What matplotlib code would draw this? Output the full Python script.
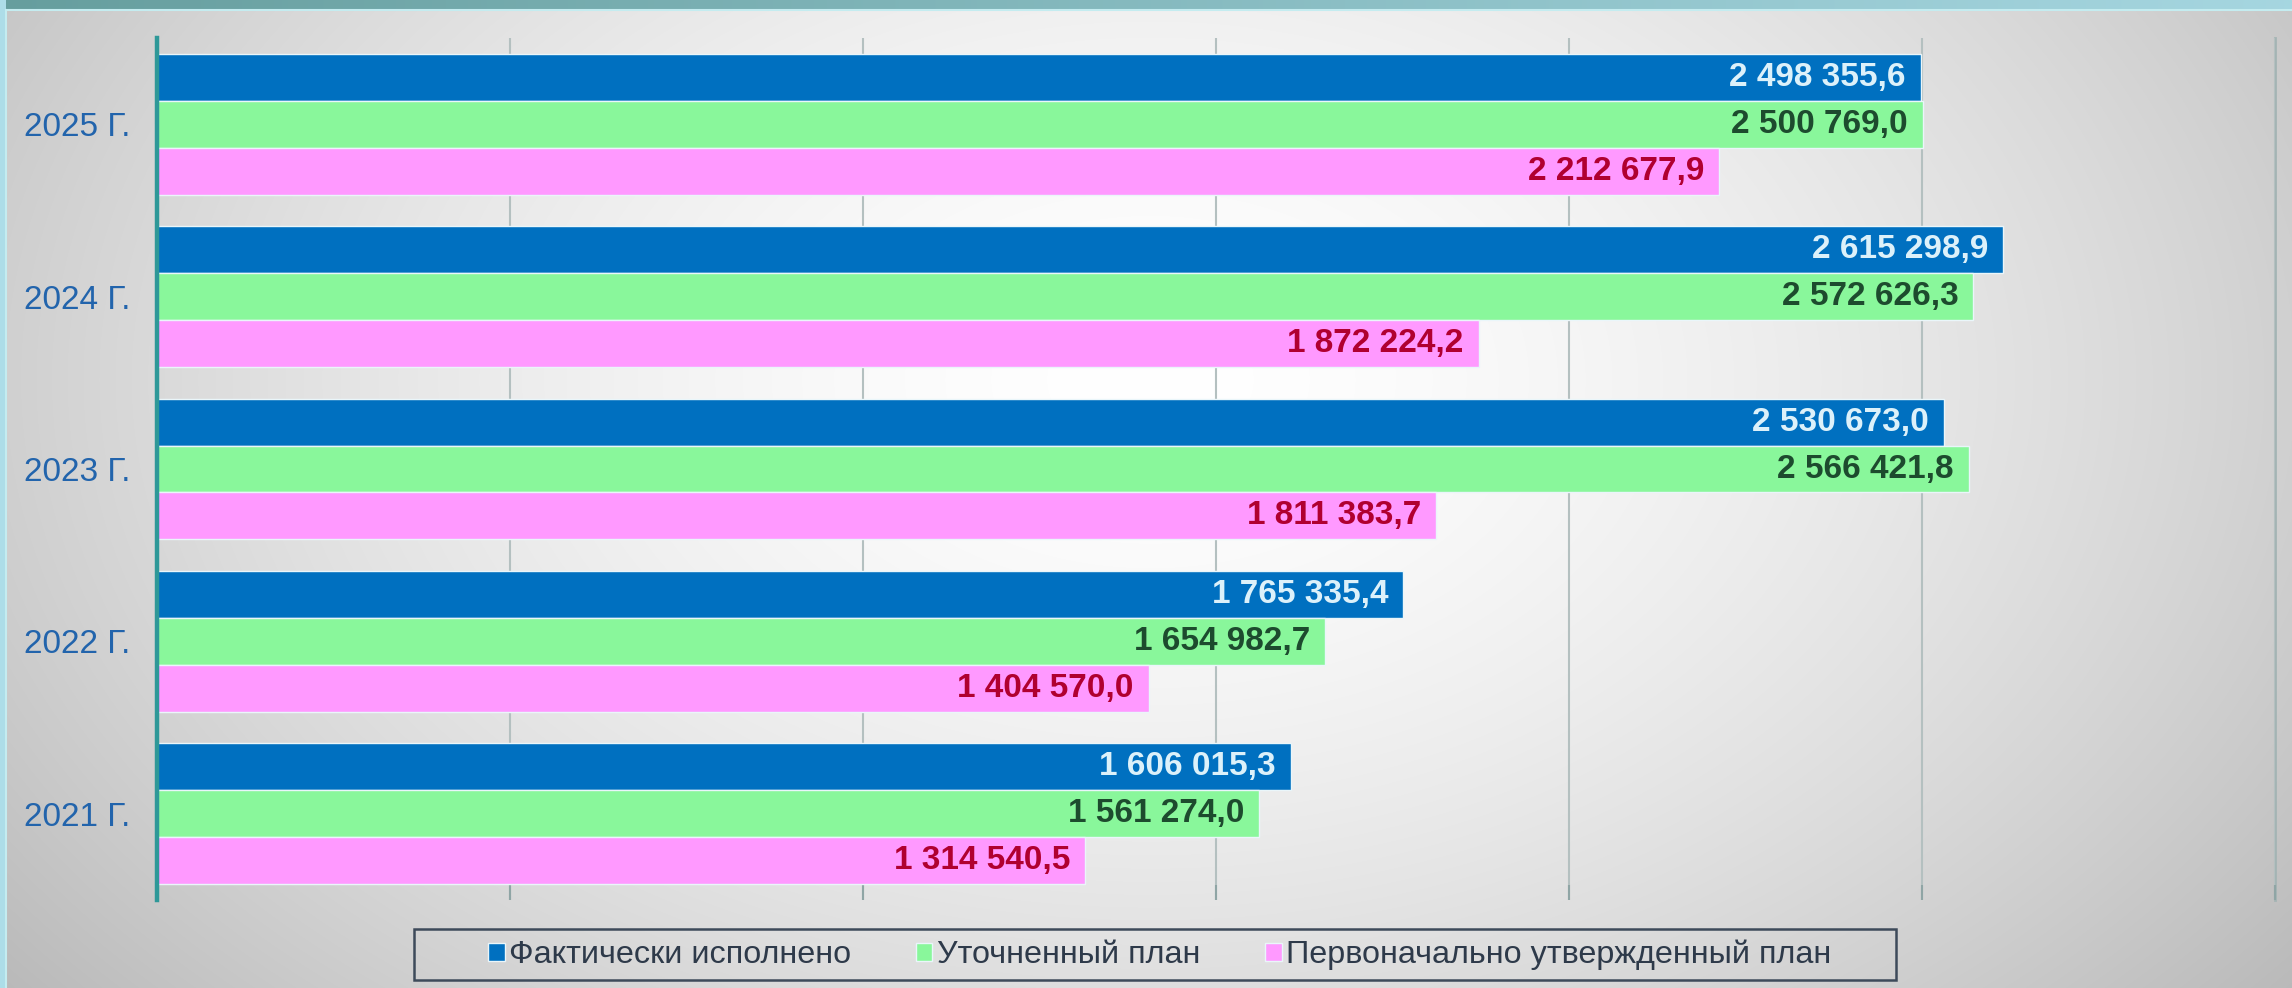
import numpy as np
import matplotlib
matplotlib.use("Agg")
import matplotlib.pyplot as plt
from matplotlib.patches import Rectangle

plt.rcParams['font.family'] = ['Liberation Sans', 'DejaVu Sans']

years = ["2021 Г.", "2022 Г.", "2023 Г.", "2024 Г.", "2025 Г."]
fact = [1606015.3, 1765335.4, 2530673.0, 2615298.9, 2498355.6]
refined = [1561274.0, 1654982.7, 2566421.8, 2572626.3, 2500769.0]
initial = [1314540.5, 1404570.0, 1811383.7, 1872224.2, 2212677.9]
series_names = ["Фактически исполнено", "Уточненный план", "Первоначально утвержденный план"]

bar_colors = ["#0070c0", "#89f79b", "#ff99ff"]
label_colors = ["#dcf1fa", "#1d4b2e", "#b00030"]

W, H = 2292, 988
fig = plt.figure(figsize=(W / 100, H / 100), dpi=100)

# background
bg = fig.add_axes([0, 0, 1, 1])
bg.set_axis_off()
yy, xx = np.mgrid[0:H, 0:W]
r = np.sqrt(((xx - 1150) / 1350.0) ** 2 + ((yy - 380) / 900.0) ** 2)
v = 1.0 - 0.24 * np.clip(r, 0, 1.2) ** 1.6
img = np.dstack([v, v, v])
t = xx[:10] / W
img[:10, :, 0] = 0.40 + 0.25 * t
img[:10, :, 1] = 0.62 + 0.22 * t
img[:10, :, 2] = 0.62 + 0.26 * t
img[:, :6, 0] = 0.68
img[:, :6, 1] = 0.87
img[:, :6, 2] = 0.91
bg.imshow(img, extent=[0, W, H, 0], aspect='auto')
bg.set_xlim(0, W)
bg.set_ylim(H, 0)
bg.plot([6, W], [10, 10], color="#c4ecf0", lw=1.5)
bg.plot([6, 6], [10, H], color="#c4ecf0", lw=1.5)
# legend frame
bg.add_patch(Rectangle((414, 929), 1482, 51, facecolor="none", edgecolor="#3d4a5a", lw=1.8))

# main axes
x0, x1, y0, y1 = 157, 2275, 38, 900
ax = fig.add_axes([x0 / W, (H - y1) / H, (x1 - x0) / W, (y1 - y0) / H])
ax.patch.set_alpha(0)

idx = np.arange(len(years))
h = 0.272
offsets = [h, 0, -h]
data = [fact, refined, initial]
for s, (vals, off) in enumerate(zip(data, offsets)):
    ax.barh(idx + off, vals, height=h, color=bar_colors[s],
            edgecolor="#eaf6fa", linewidth=1.0, label=series_names[s], zorder=3)
    for yv, val in zip(idx + off, vals):
        txt = f"{val:,.1f}".replace(",", " ").replace(".", ",")
        ax.annotate(txt, xy=(val, yv), xytext=(-15, 0), textcoords="offset pixels",
                    ha="right", va="center", fontsize=24, fontweight="bold",
                    color=label_colors[s], zorder=4)

ax.set_xlim(0, 3000000)
ax.set_ylim(-0.5, 4.5)
ax.set_xticks(np.arange(0, 3000001, 500000))
ax.set_xticklabels([])
ax.grid(axis='x', color="#b4c0c0", lw=1.5, zorder=0)
ax.axvline(3000000, color="#a4b4b4", lw=2, clip_on=False, zorder=1)
ax.tick_params(axis='x', direction='in', length=11, width=1.5, color="#8fa5a5")
ax.set_yticks(idx)
ax.set_yticklabels(years, fontsize=24, color="#2264ac")
ax.tick_params(axis='y', length=0, pad=19)
for sp in ["top", "right", "bottom"]:
    ax.spines[sp].set_visible(False)
ax.spines["left"].set_color("#2e9898")
ax.spines["left"].set_linewidth(3.2)
ax.spines["left"].set_zorder(6)

handles, labels = ax.get_legend_handles_labels()
leg = fig.legend(handles, labels, loc="center", bbox_to_anchor=(1160 / W, (H - 955) / H),
                 ncol=3, fontsize=23.3, frameon=False,
                 handlelength=0.5, handleheight=0.5, handletextpad=0.15,
                 columnspacing=2.0, borderpad=0.2)
for txt in leg.get_texts():
    txt.set_color("#2e3a4a")

fig.savefig("out.png", dpi=100)
